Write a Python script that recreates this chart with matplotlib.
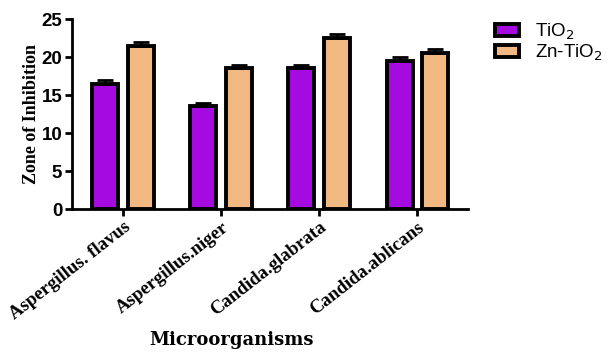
import numpy as np
import matplotlib
matplotlib.use("Agg")
import matplotlib.pyplot as plt

organisms = ["Aspergillus. flavus", "Aspergillus.niger", "Candida.glabrata", "Candida.ablicans"]
tio2 = [16.5, 13.5, 18.5, 19.5]
zn_tio2 = [21.5, 18.5, 22.5, 20.5]
tio2_err = [0.5, 0.5, 0.5, 0.5]
zn_tio2_err = [0.5, 0.5, 0.5, 0.5]

purple = "#A50BE0"
orange = "#F2B882"

fig = plt.figure(figsize=(6.12, 3.52), dpi=100)
ax = fig.add_axes([0.1176, 0.406, 0.6474, 0.54])

x = np.arange(len(organisms))
w = 0.265
off = 0.18
err_kw = dict(elinewidth=2, capsize=6, capthick=2, ecolor="black")
ax.bar(x - off, tio2, w, yerr=[[0] * 4, tio2_err], color=purple,
       edgecolor="black", linewidth=2.8, label="TiO$_2$", error_kw=err_kw, zorder=2)
ax.bar(x + off, zn_tio2, w, yerr=[[0] * 4, zn_tio2_err], color=orange,
       edgecolor="black", linewidth=2.8, label="Zn-TiO$_2$", error_kw=err_kw, zorder=2)

ax.set_xlim(-0.52, 3.52)
ax.set_ylim(0, 25)
ax.set_yticks([0, 5, 10, 15, 20, 25])
ax.set_xticks(x)
ax.set_xticklabels(organisms, rotation=38, ha="right", rotation_mode="anchor",
                   family="Liberation Serif", fontweight="bold", fontsize=13.5)
for lbl in ax.get_yticklabels():
    lbl.set_family("Liberation Sans")
    lbl.set_fontweight("bold")
    lbl.set_fontsize(13.5)

for s in ["top", "right"]:
    ax.spines[s].set_visible(False)
for s in ["left", "bottom"]:
    ax.spines[s].set_linewidth(2)
ax.tick_params(axis="both", width=2, length=5, direction="out", pad=2)

ax.set_ylabel("Zone of Inhibition", family="Liberation Serif", fontweight="bold",
              fontsize=13, labelpad=1)
fig.text(0.378, 0.035, "Microorganisms", family="DejaVu Serif", fontweight="bold",
         fontsize=13, ha="center", va="center")

leg = ax.legend(loc="upper left", bbox_to_anchor=(1.025, 1.075), frameon=False,
                prop={"family": "Liberation Sans", "size": 13.5},
                handlelength=1.3, handleheight=0.6, handletextpad=0.85,
                labelspacing=0.05)

fig.savefig("out.png", dpi=100)
